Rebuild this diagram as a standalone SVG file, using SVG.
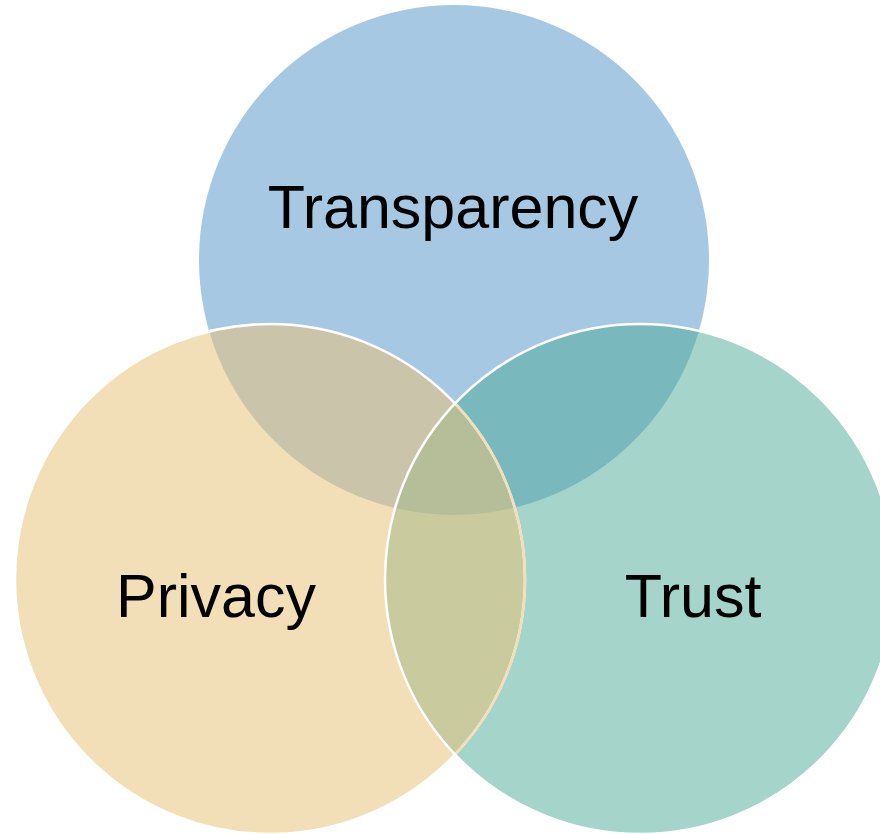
<svg xmlns="http://www.w3.org/2000/svg" width="880" height="834" viewBox="0 0 880 834">
  <style>
    .label { font-family: "Liberation Sans", Arial, sans-serif; font-size: 61px; fill: #000000; text-anchor: middle; }
    .ring { fill: none; stroke-width: 2.5; }
  </style>
  <defs>
    <clipPath id="tealClip">
      <circle cx="640" cy="579" r="255"/>
    </clipPath>
  </defs>
  <rect width="880" height="834" fill="#ffffff"/>
  <g id="transparency">
    <circle cx="454" cy="260" r="255" fill="#a7c8e3"/>
  </g>
  <g id="trust">
    <circle cx="640" cy="579" r="255" fill="#4ba997" fill-opacity="0.5"/>
  </g>
  <g id="privacy">
    <circle cx="270" cy="579" r="255" fill="#e7c37c" fill-opacity="0.55"/>
  </g>
  <g id="outlines">
    <circle class="ring" cx="270" cy="579" r="255" stroke="#ffffff"/>
    <circle class="ring" cx="270" cy="579" r="255" stroke="#f2deb7" clip-path="url(#tealClip)"/>
    <circle class="ring" cx="640" cy="579" r="255" stroke="#ffffff"/>
  </g>
  <g id="labels">
    <text class="label" x="453" y="228">Transparency</text>
    <text class="label" x="216" y="617">Privacy</text>
    <text class="label" x="693" y="617">Trust</text>
  </g>
</svg>
